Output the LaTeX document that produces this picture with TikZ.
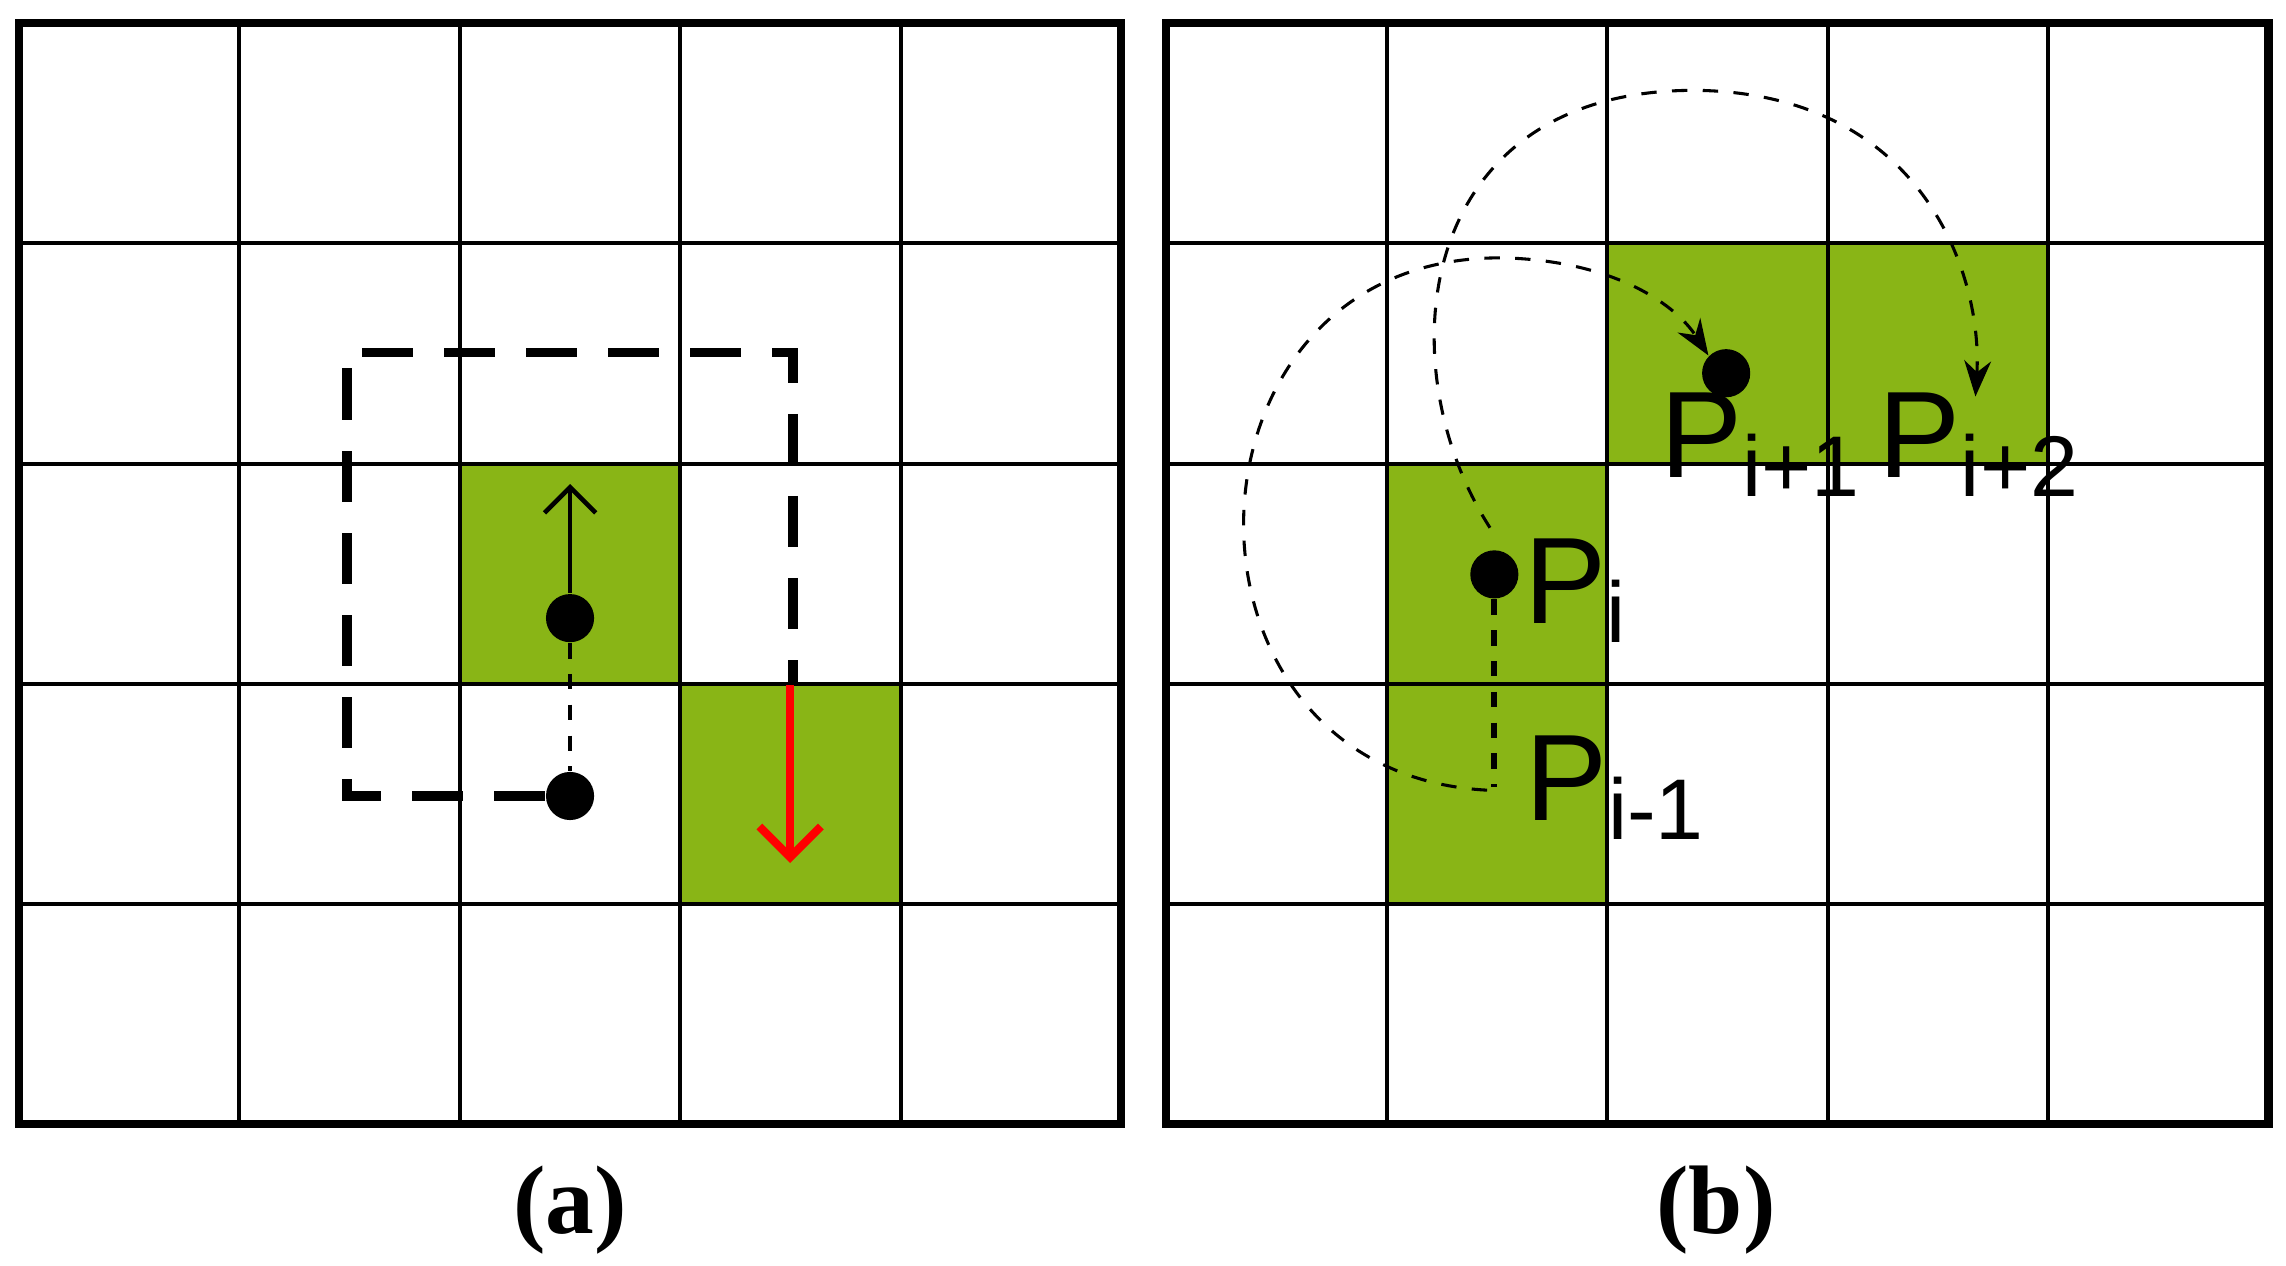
\documentclass[tikz,border=0pt]{standalone}
\usepackage{fontspec}
\setmainfont{Liberation Serif}
\newfontfamily\lab{Liberation Sans}
\usetikzlibrary{arrows.meta,positioning}
\definecolor{cellgreen}{RGB}{137,181,22}
\begin{document}
\begin{tikzpicture}[x=0.01cm,y=-0.01cm,
dot/.style={circle, fill=black, inner sep=0pt, minimum size=0.33cm},
pt/.style={font=\lab\fontsize{24}{24}\selectfont, inner sep=0pt},
subcap/.style={font=\bfseries\fontsize{19}{19}\selectfont},
>={Stealth[length=7pt]}
]
\useasboundingbox (0,0) rectangle (1568,868);
% green cells
\fill[cellgreen] (316,319) rectangle (467,470);
\fill[cellgreen] (467,470) rectangle (619,621);
\fill[cellgreen] (951,319) rectangle (1103,621);
\fill[cellgreen] (1103,167) rectangle (1405,319);
% grids
\foreach \ox in {13,800}
{\foreach \i in {1,...,4}
  {\draw[line width=0.8pt] (\ox+\i*151.2,16) -- (\ox+\i*151.2,771);
   \draw[line width=0.8pt] (\ox,16+\i*151) -- (\ox+756,16+\i*151);}
 \draw[line width=1.6pt] (\ox,16) rectangle (\ox+756,771);
}
% (a)
\node[dot] (a1) at (391,424) {};
\node[dot] (a0) at (391,546) {};
\coordinate (aup) at (391,332);
\draw[line width=1.8pt, dash pattern=on 10pt off 6pt] (a0.west) -- (238,546) -- (238,242) -- (544,242) -- (544,470);
\draw[dashed, line width=0.9pt] (a1) -- (a0);
\draw[->, line width=0.9pt, >={Straight Barb[length=5pt]}] (a1) -- (aup);
\coordinate (rs) at (542,470);
\coordinate (re) at (542,592);
\draw[->, red, line width=1.6pt, >={Straight Barb[length=6pt]}] (rs) -- (re);
% (b)
\node[dot] (pi) at (1025,394) {};
\node[dot] (pn) at (1184,256) {};
\coordinate (pp) at (1025,540);
\coordinate (pe) at (1355,272);
\node[pt, anchor=west] at (1045,405) {P\textsubscript{i}};
\node[pt, anchor=west] at (1046,540) {P\textsubscript{i-1}};
\node[pt, anchor=west] at (1138,305) {P\textsubscript{i+1}};
\node[pt, anchor=west] at (1288,305) {P\textsubscript{i+2}};
\draw[dashed, line width=1.2pt] (pi) -- (pp);
\draw[dashed, line width=0.6pt, ->] (1020,542) .. controls (790,530) and (800,170) .. (1035,177)
  .. controls (1110,180) and (1150,210) .. (pn.north west);
\draw[dashed, line width=0.6pt, ->] (1022,362) .. controls (950,250) and (970,60) .. (1165,62)
  .. controls (1320,65) and (1360,190) .. (pe);
\node[subcap] at (391,830) {(a)};
\node[subcap] at (1177,830) {(b)};
\end{tikzpicture}
\end{document}
